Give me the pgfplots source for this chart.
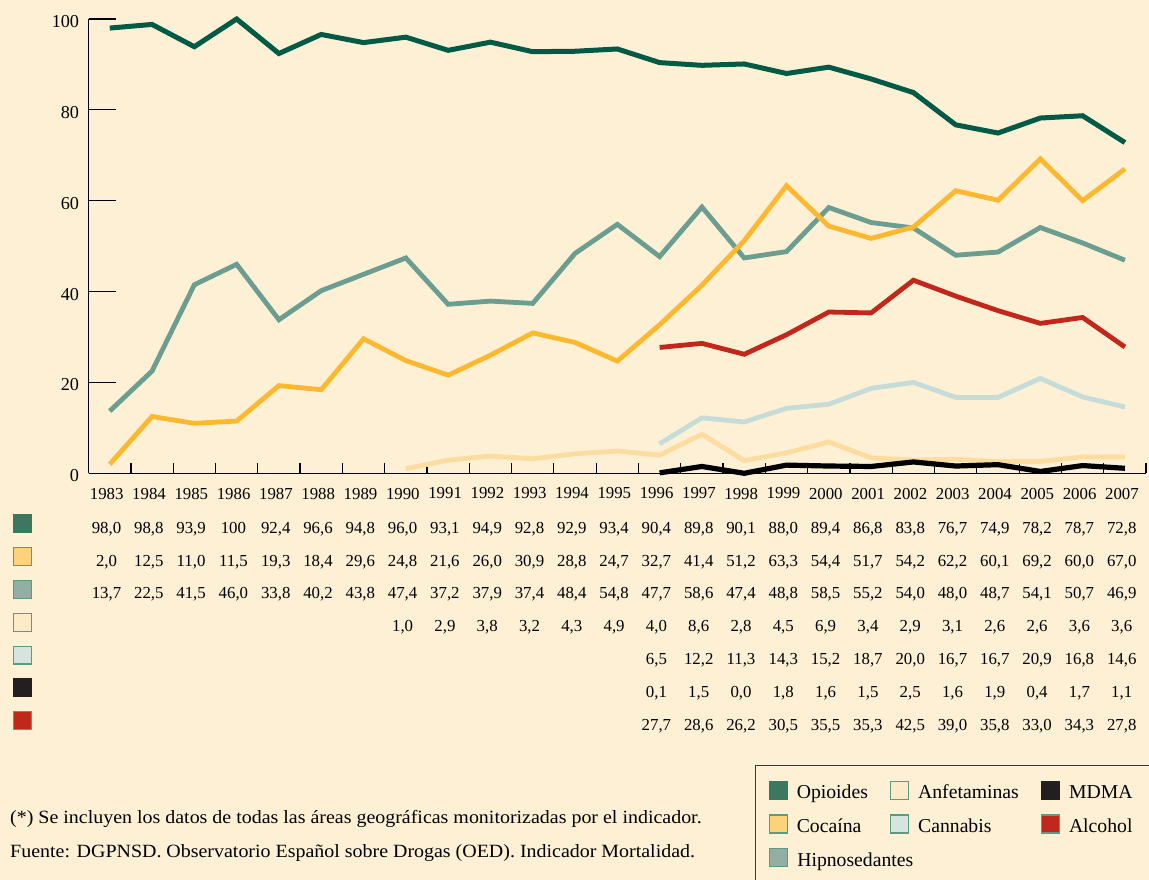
\documentclass[border=0pt]{standalone}
\usepackage{fontspec}
\setmainfont{Liberation Serif}
\usepackage{pgfplots}
\pgfplotsset{compat=1.18}
\definecolor{bg}{HTML}{FDF0D5}
\definecolor{opiline}{HTML}{005A45}
\definecolor{cocline}{HTML}{FDB830}
\definecolor{hipline}{HTML}{6B9D91}
\definecolor{anfline}{HTML}{FDDCA0}
\definecolor{canline}{HTML}{C6DCD8}
\definecolor{mdmline}{HTML}{000000}
\definecolor{alcline}{HTML}{C1271B}
\definecolor{opisq}{HTML}{3C7860}
\definecolor{cocsq}{HTML}{FDD27A}
\definecolor{hipsq}{HTML}{93AFA3}
\definecolor{anfsq}{HTML}{FDEBC8}
\definecolor{cansq}{HTML}{D6E4E0}
\definecolor{mdmsq}{HTML}{231F20}
\definecolor{alcsq}{HTML}{C0281C}
\definecolor{sqborder}{HTML}{5E9A80}
\newcommand\tabfont{\fontsize{16.8}{18}\selectfont}
\newcommand\legfont{\fontsize{19.7}{22}\selectfont}
\newcommand\footfont{\fontsize{18.7}{21}\selectfont}
\begin{document}
\begin{tikzpicture}[x=1pt,y=1pt]
\useasboundingbox (0,0) rectangle (1149,880);
\fill[bg] (0,0) rectangle (1149,880);
\begin{axis}[
  at={(88.6pt,406.7pt)}, anchor=south west,
  scale only axis, width=1057.5pt, height=454.3pt,
  xmin=-0.5, xmax=24.5, ymin=0, ymax=100,
  clip=false,
  axis x line*=bottom, axis y line*=left,
  axis line style={-, line width=1.2pt, black},
  tick align=inside,
  ytick={0,20,...,100},
  ytick style={/pgfplots/major tick length=27pt, line width=1.2pt, black},
  yticklabel style={font=\fontsize{18.2}{20}\selectfont, xshift=-6pt, yshift=-2.5pt},
  /pgf/number format/assume math mode=true,
  xtick={-0.5,0.5,...,24.5},
  x tick label as interval,
  xticklabels={1983,1984,1985,1986,1987,1988,1989,1990,1991,1992,1993,1994,1995,1996,1997,1998,1999,2000,2001,2002,2003,2004,2005,2006,2007},
  xtick style={/pgfplots/major tick length=10pt, line width=1.2pt, black},
  xticklabel style={font=\tabfont, yshift=-11pt, xshift=-3pt},
  legend columns=3,
  legend cell align=left,
  legend style={at={(axis description cs:0.6302,-0.6421)}, anchor=north west,
    draw=black!78, line width=1.2pt, fill=bg, font=\legfont,
    inner xsep=13pt, inner ysep=15pt, row sep=14pt,
    nodes={inner sep=0pt},
    /tikz/every odd column/.append style={column sep=9pt},
    /tikz/every even column/.append style={column sep=22pt}},
  legend image code/.code={\draw[line width=1.2pt,#1] (0pt,-6.5pt) rectangle (18pt,11.5pt);},
]
\addplot[forget plot, hipline, line width=4.8pt] coordinates {(0,13.7)(1,22.5)(2,41.5)(3,46.0)(4,33.8)(5,40.2)(6,43.8)(7,47.4)(8,37.2)(9,37.9)(10,37.4)(11,48.4)(12,54.8)(13,47.7)(14,58.6)(15,47.4)(16,48.8)(17,58.5)(18,55.2)(19,54.0)(20,48.0)(21,48.7)(22,54.1)(23,50.7)(24,46.9)};
\addplot[forget plot, cocline, line width=4.8pt] coordinates {(0,2.0)(1,12.5)(2,11.0)(3,11.5)(4,19.3)(5,18.4)(6,29.6)(7,24.8)(8,21.6)(9,26.0)(10,30.9)(11,28.8)(12,24.7)(13,32.7)(14,41.4)(15,51.2)(16,63.3)(17,54.4)(18,51.7)(19,54.2)(20,62.2)(21,60.1)(22,69.2)(23,60.0)(24,67.0)};
\addplot[forget plot, anfline, line width=4.8pt] coordinates {(7,1.0)(8,2.9)(9,3.8)(10,3.2)(11,4.3)(12,4.9)(13,4.0)(14,8.6)(15,2.8)(16,4.5)(17,6.9)(18,3.4)(19,2.9)(20,3.1)(21,2.6)(22,2.6)(23,3.6)(24,3.6)};
\addplot[forget plot, canline, line width=4.8pt] coordinates {(13,6.5)(14,12.2)(15,11.3)(16,14.3)(17,15.2)(18,18.7)(19,20.0)(20,16.7)(21,16.7)(22,20.9)(23,16.8)(24,14.6)};
\addplot[forget plot, alcline, line width=4.8pt] coordinates {(13,27.7)(14,28.6)(15,26.2)(16,30.5)(17,35.5)(18,35.3)(19,42.5)(20,39.0)(21,35.8)(22,33.0)(23,34.3)(24,27.8)};
\addplot[forget plot, mdmline, line width=5.2pt] coordinates {(13,0.1)(14,1.5)(15,0.0)(16,1.8)(17,1.6)(18,1.5)(19,2.5)(20,1.6)(21,1.9)(22,0.4)(23,1.7)(24,1.1)};
\addplot[forget plot, opiline, line width=5pt] coordinates {(0,98.0)(1,98.8)(2,93.9)(3,100)(4,92.4)(5,96.6)(6,94.8)(7,96.0)(8,93.1)(9,94.9)(10,92.8)(11,92.9)(12,93.4)(13,90.4)(14,89.8)(15,90.1)(16,88.0)(17,89.4)(18,86.8)(19,83.8)(20,76.7)(21,74.9)(22,78.2)(23,78.7)(24,72.8)};
\addlegendimage{fill=opisq, draw=opisq}
\addlegendentry{Opioides}
\addlegendimage{fill=anfsq, draw=sqborder}
\addlegendentry{Anfetaminas}
\addlegendimage{fill=mdmsq, draw=mdmsq}
\addlegendentry{\makebox[85pt][l]{MDMA}}
\addlegendimage{fill=cocsq, draw=sqborder}
\addlegendentry{Cocaína}
\addlegendimage{fill=cansq, draw=sqborder}
\addlegendentry{Cannabis}
\addlegendimage{fill=alcsq, draw=sqborder}
\addlegendentry{Alcohol}
\addlegendimage{fill=hipsq, draw=sqborder}
\addlegendentry{\makebox[0pt][l]{Hipnosedantes}}
\end{axis}
% data table under the chart
\foreach \v [count=\i from 0] in {98{,}0,98{,}8,93{,}9,100,92{,}4,96{,}6,94{,}8,96{,}0,93{,}1,94{,}9,92{,}8,92{,}9,93{,}4,90{,}4,89{,}8,90{,}1,88{,}0,89{,}4,86{,}8,83{,}8,76{,}7,74{,}9,78{,}2,78{,}7,72{,}8}
  \node[anchor=base, inner sep=0pt, font=\tabfont] at ({106.5+42.3*\i},346.7) {\v};
\foreach \v [count=\i from 0] in {2{,}0,12{,}5,11{,}0,11{,}5,19{,}3,18{,}4,29{,}6,24{,}8,21{,}6,26{,}0,30{,}9,28{,}8,24{,}7,32{,}7,41{,}4,51{,}2,63{,}3,54{,}4,51{,}7,54{,}2,62{,}2,60{,}1,69{,}2,60{,}0,67{,}0}
  \node[anchor=base, inner sep=0pt, font=\tabfont] at ({106.5+42.3*\i},313.9) {\v};
\foreach \v [count=\i from 0] in {13{,}7,22{,}5,41{,}5,46{,}0,33{,}8,40{,}2,43{,}8,47{,}4,37{,}2,37{,}9,37{,}4,48{,}4,54{,}8,47{,}7,58{,}6,47{,}4,48{,}8,58{,}5,55{,}2,54{,}0,48{,}0,48{,}7,54{,}1,50{,}7,46{,}9}
  \node[anchor=base, inner sep=0pt, font=\tabfont] at ({106.5+42.3*\i},281.0) {\v};
\foreach \v [count=\i from 7] in {1{,}0,2{,}9,3{,}8,3{,}2,4{,}3,4{,}9,4{,}0,8{,}6,2{,}8,4{,}5,6{,}9,3{,}4,2{,}9,3{,}1,2{,}6,2{,}6,3{,}6,3{,}6}
  \node[anchor=base, inner sep=0pt, font=\tabfont] at ({106.5+42.3*\i},248.2) {\v};
\foreach \v [count=\i from 13] in {6{,}5,12{,}2,11{,}3,14{,}3,15{,}2,18{,}7,20{,}0,16{,}7,16{,}7,20{,}9,16{,}8,14{,}6}
  \node[anchor=base, inner sep=0pt, font=\tabfont] at ({106.5+42.3*\i},215.4) {\v};
\foreach \v [count=\i from 13] in {0{,}1,1{,}5,0{,}0,1{,}8,1{,}6,1{,}5,2{,}5,1{,}6,1{,}9,0{,}4,1{,}7,1{,}1}
  \node[anchor=base, inner sep=0pt, font=\tabfont] at ({106.5+42.3*\i},182.5) {\v};
\foreach \v [count=\i from 13] in {27{,}7,28{,}6,26{,}2,30{,}5,35{,}5,35{,}3,42{,}5,39{,}0,35{,}8,33{,}0,34{,}3,27{,}8}
  \node[anchor=base, inner sep=0pt, font=\tabfont] at ({106.5+42.3*\i},149.7) {\v};
% row keys
\foreach \c/\b [count=\k from 0] in {opisq/opisq, cocsq/sqborder, hipsq/sqborder, anfsq/sqborder, cansq/sqborder, mdmsq/mdmsq, alcsq/sqborder}
  \draw[line width=1.2pt, fill=\c, draw=\b] (13.3,{346.7-32.83*\k+0.6}) rectangle (31.1,{346.7-32.83*\k+18.4});
% footnotes
\node[anchor=base west, inner sep=0pt, font=\footfont] at (10,56) {\scalebox{1.067}[1]{(*) Se incluyen los datos de todas las áreas geográficas monitorizadas por el indicador.}};
\node[anchor=base west, inner sep=0pt, font=\footfont] at (10,22) {\scalebox{1.067}[1]{Fuente: DGPNSD. Observatorio Español sobre Drogas (OED). Indicador Mortalidad.}};
\end{tikzpicture}
\end{document}
